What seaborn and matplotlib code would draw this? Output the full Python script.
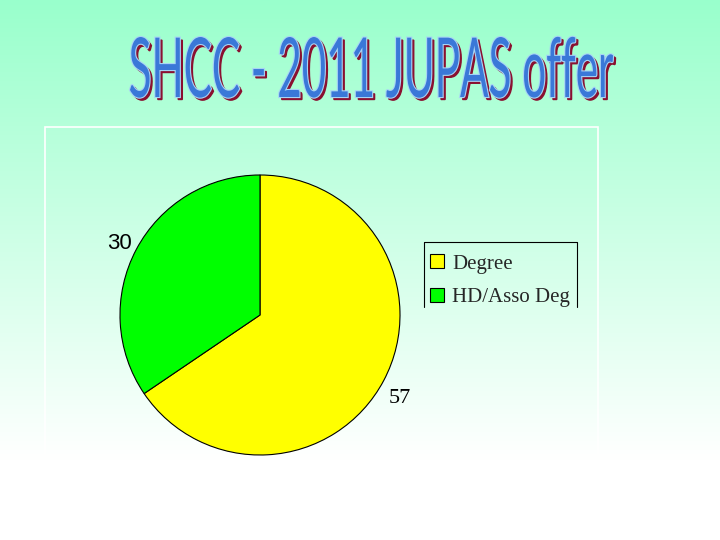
import numpy as np
import seaborn as sns
import matplotlib.pyplot as plt
from matplotlib.textpath import TextPath
from matplotlib.patches import PathPatch, Rectangle
from matplotlib.font_manager import FontProperties
from matplotlib.lines import Line2D
from matplotlib.transforms import Affine2D

# data
categories = ["Degree", "HD/Asso Deg"]
offers = [57, 30]
slice_colors = ["#ffff00", "#00ff00"]
title = "SHCC - 2011 JUPAS offer"

sns.set_theme(style="white")
plt.rcParams['font.family'] = ['Liberation Serif', 'DejaVu Serif']

W, H = 720, 540
fig = plt.figure(figsize=(W / 100, H / 100), dpi=100)

# background gradient mint -> white
bg = fig.add_axes([0, 0, 1, 1], zorder=-10)
top = np.array([0.60, 1.0, 0.80])
bottom = np.array([1.0, 1.0, 1.0])
t = np.clip(np.linspace(0, 1, 300) / 0.85, 0, 1)[:, None]
grad = (top * (1 - t) + bottom * t)[:, None, :]
bg.imshow(grad, aspect='auto', extent=[0, 1, 0, 1], origin='upper')
bg.set_axis_off()

# faint chart area border
fig.patches.append(Rectangle((45 / W, 1 - 500 / H), 553 / W, 373 / H, transform=fig.transFigure,
                             fill=False, edgecolor='white', lw=1.2))

# title as stretched word-art: baseline at y=97 px, cap top at y=37 px
fprop = FontProperties(family='Lato', weight='normal')
tp = TextPath((0, 0), title, size=1, prop=fprop)
ext = tp.get_extents()
cap_h = TextPath((0, 0), "SHCC", size=1, prop=fprop).get_extents().y1
x0, x1 = 130, 613
base, cap_top = 97, 37
sx = (x1 - x0) / ext.width
sy = (base - cap_top) / cap_h


def title_tr(dx, dy):
    return (Affine2D().translate(-ext.x0, 0).scale(sx, sy)
            .translate(x0 + dx, H - base + dy).scale(1 / W, 1 / H) + fig.transFigure)


fig.patches.append(PathPatch(tp, transform=title_tr(2.5, -2.5), facecolor='#8a1030',
                             edgecolor='#8a1030', lw=1.0))
fig.patches.append(PathPatch(tp, transform=title_tr(0, 0), facecolor='#3a78d8',
                             edgecolor='#a8d4f4', lw=1.6))
fig.patches.append(PathPatch(tp, transform=title_tr(0, 0), facecolor='#3a78d8',
                             edgecolor='none'))

# pie
cx, cy, r = 260, 315, 140
box = r * 1.25
ax = fig.add_axes([(cx - box) / W, (H - cy - box) / H, 2 * box / W, 2 * box / H])
ax.patch.set_alpha(0)
wedges, texts = ax.pie(offers, labels=[str(v) for v in offers], colors=slice_colors,
                       startangle=90, counterclock=False, labeldistance=1.04,
                       wedgeprops=dict(edgecolor='black', linewidth=0.8),
                       textprops=dict(fontsize=16, color='black'))
texts[1].set_family(['Liberation Sans'])
texts[1].set_fontsize(16)
texts[1].set_y(texts[1].get_position()[1] + 0.02)
texts[0].set_verticalalignment('top')
texts[0].set_y(texts[0].get_position()[1] - 0.04)
ax.set_xlim(-1.25, 1.25)
ax.set_ylim(-1.25, 1.25)
ax.set_axis_off()

# legend (box cut off at the bottom as on the slide)
handles = [Line2D([], [], marker='s', linestyle='none', markersize=9.5, markerfacecolor=c,
                  markeredgecolor='black', markeredgewidth=0.8) for c in slice_colors]
fig.legend(handles, categories, loc='upper left', bbox_to_anchor=(424 / W, 1 - 250 / H),
           frameon=False, fontsize=15, handlelength=0.8, handletextpad=0.35,
           labelspacing=0.65, borderpad=0.2, borderaxespad=0)
lx0, lx1, ly0, ly1 = 424, 577, 242, 307
fig.lines.append(Line2D([lx0 / W, lx0 / W, lx1 / W, lx1 / W],
                        [1 - ly1 / H, 1 - ly0 / H, 1 - ly0 / H, 1 - ly1 / H],
                        transform=fig.transFigure, color='black', lw=0.8))

fig.savefig('out.png', dpi=100)
